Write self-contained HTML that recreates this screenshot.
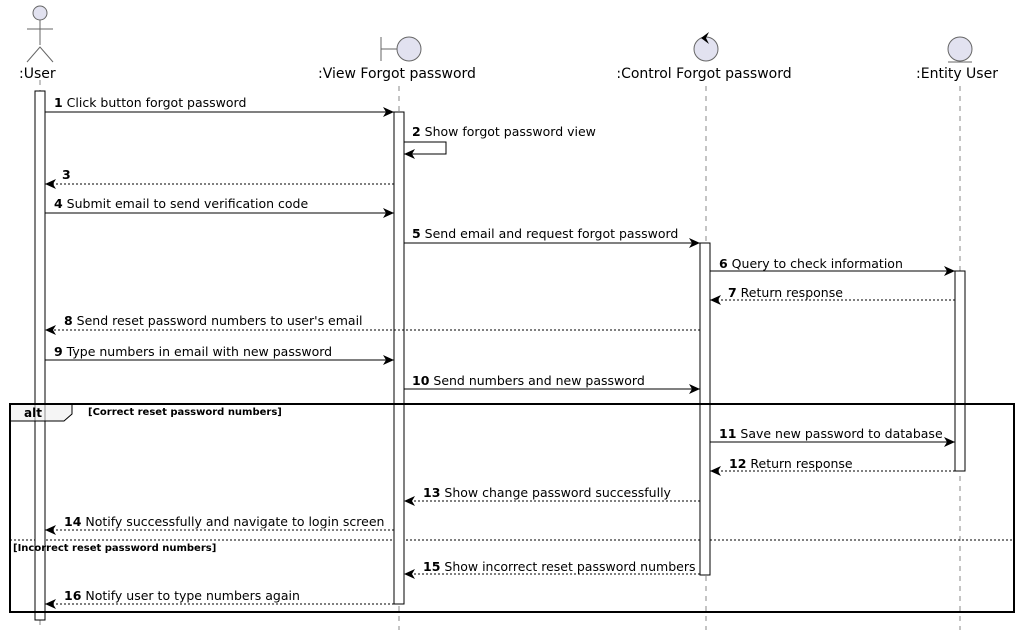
<!DOCTYPE html>
<html><head><meta charset="utf-8"><style>
body{margin:0;background:#fff}
text{font-family:"DejaVu Sans","Liberation Sans",sans-serif;fill:#000}
.m{font-size:12.5px}
.h{font-size:14px}
</style></head><body>
<svg width="1018" height="635" viewBox="0 0 1018 635" xmlns="http://www.w3.org/2000/svg">
<defs>
<marker id="a" markerWidth="12" markerHeight="10" refX="11" refY="5" orient="auto" markerUnits="userSpaceOnUse"><path d="M0,0 L11,5 L0,10 L3,5 Z" fill="#000"/></marker>
</defs>
<g stroke="#888" stroke-dasharray="5,5" stroke-width="1">
<line x1="40" y1="80" x2="40" y2="630"/>
<line x1="399" y1="86" x2="399" y2="630"/>
<line x1="706" y1="86" x2="706" y2="630"/>
<line x1="960" y1="86" x2="960" y2="630"/>
</g>
<g stroke="#666" fill="none">
<circle cx="40" cy="13" r="7" fill="#e2e2f0"/>
<line x1="40" y1="20" x2="40" y2="45"/>
<line x1="27" y1="29" x2="53" y2="29"/>
<path d="M27,62 L40,47 L53,62"/>
</g>
<text class="h" x="19" y="78">:User</text>
<g stroke="#666" fill="#e2e2f0">
<line x1="381" y1="37" x2="381" y2="61"/>
<line x1="381" y1="49" x2="397" y2="49"/>
<circle cx="409" cy="49" r="12"/>
</g>
<text class="h" x="397" y="78" text-anchor="middle">:View Forgot password</text>
<circle cx="706" cy="49" r="12" stroke="#666" fill="#e2e2f0"/>
<path d="M701,38 L709,32 L706,38 L709,44 Z" fill="#000"/>
<text class="h" x="704" y="78" text-anchor="middle">:Control Forgot password</text>
<circle cx="960" cy="49" r="12" stroke="#666" fill="#e2e2f0"/>
<line x1="948" y1="62" x2="972" y2="62" stroke="#666"/>
<text class="h" x="957" y="78" text-anchor="middle">:Entity User</text>
<line x1="10" y1="540" x2="1014" y2="540" stroke="#000" stroke-dasharray="2,2"/>
<g fill="#fff" stroke="#000">
<rect x="35" y="91" width="10" height="529"/>
<rect x="394" y="112" width="10" height="492"/>
<rect x="700" y="243" width="10" height="332"/>
<rect x="955" y="271" width="10" height="200"/>
</g>
<path d="M10,404 L72,404 L72,414 L64,421 L10,421 Z" fill="#eee" fill-opacity="0.6" stroke="#000" stroke-width="1"/>
<rect x="10" y="404" width="1004" height="208" fill="none" stroke="#000" stroke-width="2"/>
<text x="24" y="417" style="font-size:12px;font-weight:bold">alt</text>
<text x="88" y="415" style="font-size:10px;font-weight:bold">[Correct reset password numbers]</text>
<text x="13" y="551" style="font-size:10px;font-weight:bold">[Incorrect reset password numbers]</text>
<g stroke="#000" fill="none" marker-end="url(#a)">
<line x1="45" y1="112" x2="394" y2="112"/>
<path d="M404,142 L446,142 L446,154 L404,154"/>
<line x1="394" y1="184" x2="45" y2="184" stroke-dasharray="2,2"/>
<line x1="45" y1="213" x2="394" y2="213"/>
<line x1="404" y1="243" x2="700" y2="243"/>
<line x1="710" y1="271" x2="955" y2="271"/>
<line x1="955" y1="300" x2="710" y2="300" stroke-dasharray="2,2"/>
<line x1="700" y1="330" x2="45" y2="330" stroke-dasharray="2,2"/>
<line x1="45" y1="360" x2="394" y2="360"/>
<line x1="404" y1="389" x2="700" y2="389"/>
<line x1="710" y1="442" x2="955" y2="442"/>
<line x1="955" y1="471" x2="710" y2="471" stroke-dasharray="2,2"/>
<line x1="700" y1="501" x2="404" y2="501" stroke-dasharray="2,2"/>
<line x1="394" y1="530" x2="45" y2="530" stroke-dasharray="2,2"/>
<line x1="700" y1="574" x2="404" y2="574" stroke-dasharray="2,2"/>
<line x1="394" y1="604" x2="45" y2="604" stroke-dasharray="2,2"/>
</g>
<g class="m">
<text x="54" y="107"><tspan font-weight="bold">1</tspan> Click button forgot password</text>
<text x="412" y="136"><tspan font-weight="bold">2</tspan> Show forgot password view</text>
<text x="62" y="179"><tspan font-weight="bold">3</tspan></text>
<text x="54" y="208"><tspan font-weight="bold">4</tspan> Submit email to send verification code</text>
<text x="412" y="238"><tspan font-weight="bold">5</tspan> Send email and request forgot password</text>
<text x="719" y="268"><tspan font-weight="bold">6</tspan> Query to check information</text>
<text x="728" y="297"><tspan font-weight="bold">7</tspan> Return response</text>
<text x="64" y="325"><tspan font-weight="bold">8</tspan> Send reset password numbers to user's email</text>
<text x="54" y="356"><tspan font-weight="bold">9</tspan> Type numbers in email with new password</text>
<text x="412" y="385"><tspan font-weight="bold">10</tspan> Send numbers and new password</text>
<text x="719" y="438"><tspan font-weight="bold">11</tspan> Save new password to database</text>
<text x="729" y="468"><tspan font-weight="bold">12</tspan> Return response</text>
<text x="423" y="497"><tspan font-weight="bold">13</tspan> Show change password successfully</text>
<text x="64" y="526"><tspan font-weight="bold">14</tspan> Notify successfully and navigate to login screen</text>
<text x="423" y="571"><tspan font-weight="bold">15</tspan> Show incorrect reset password numbers</text>
<text x="64" y="600"><tspan font-weight="bold">16</tspan> Notify user to type numbers again</text>
</g>
</svg>
</body></html>
